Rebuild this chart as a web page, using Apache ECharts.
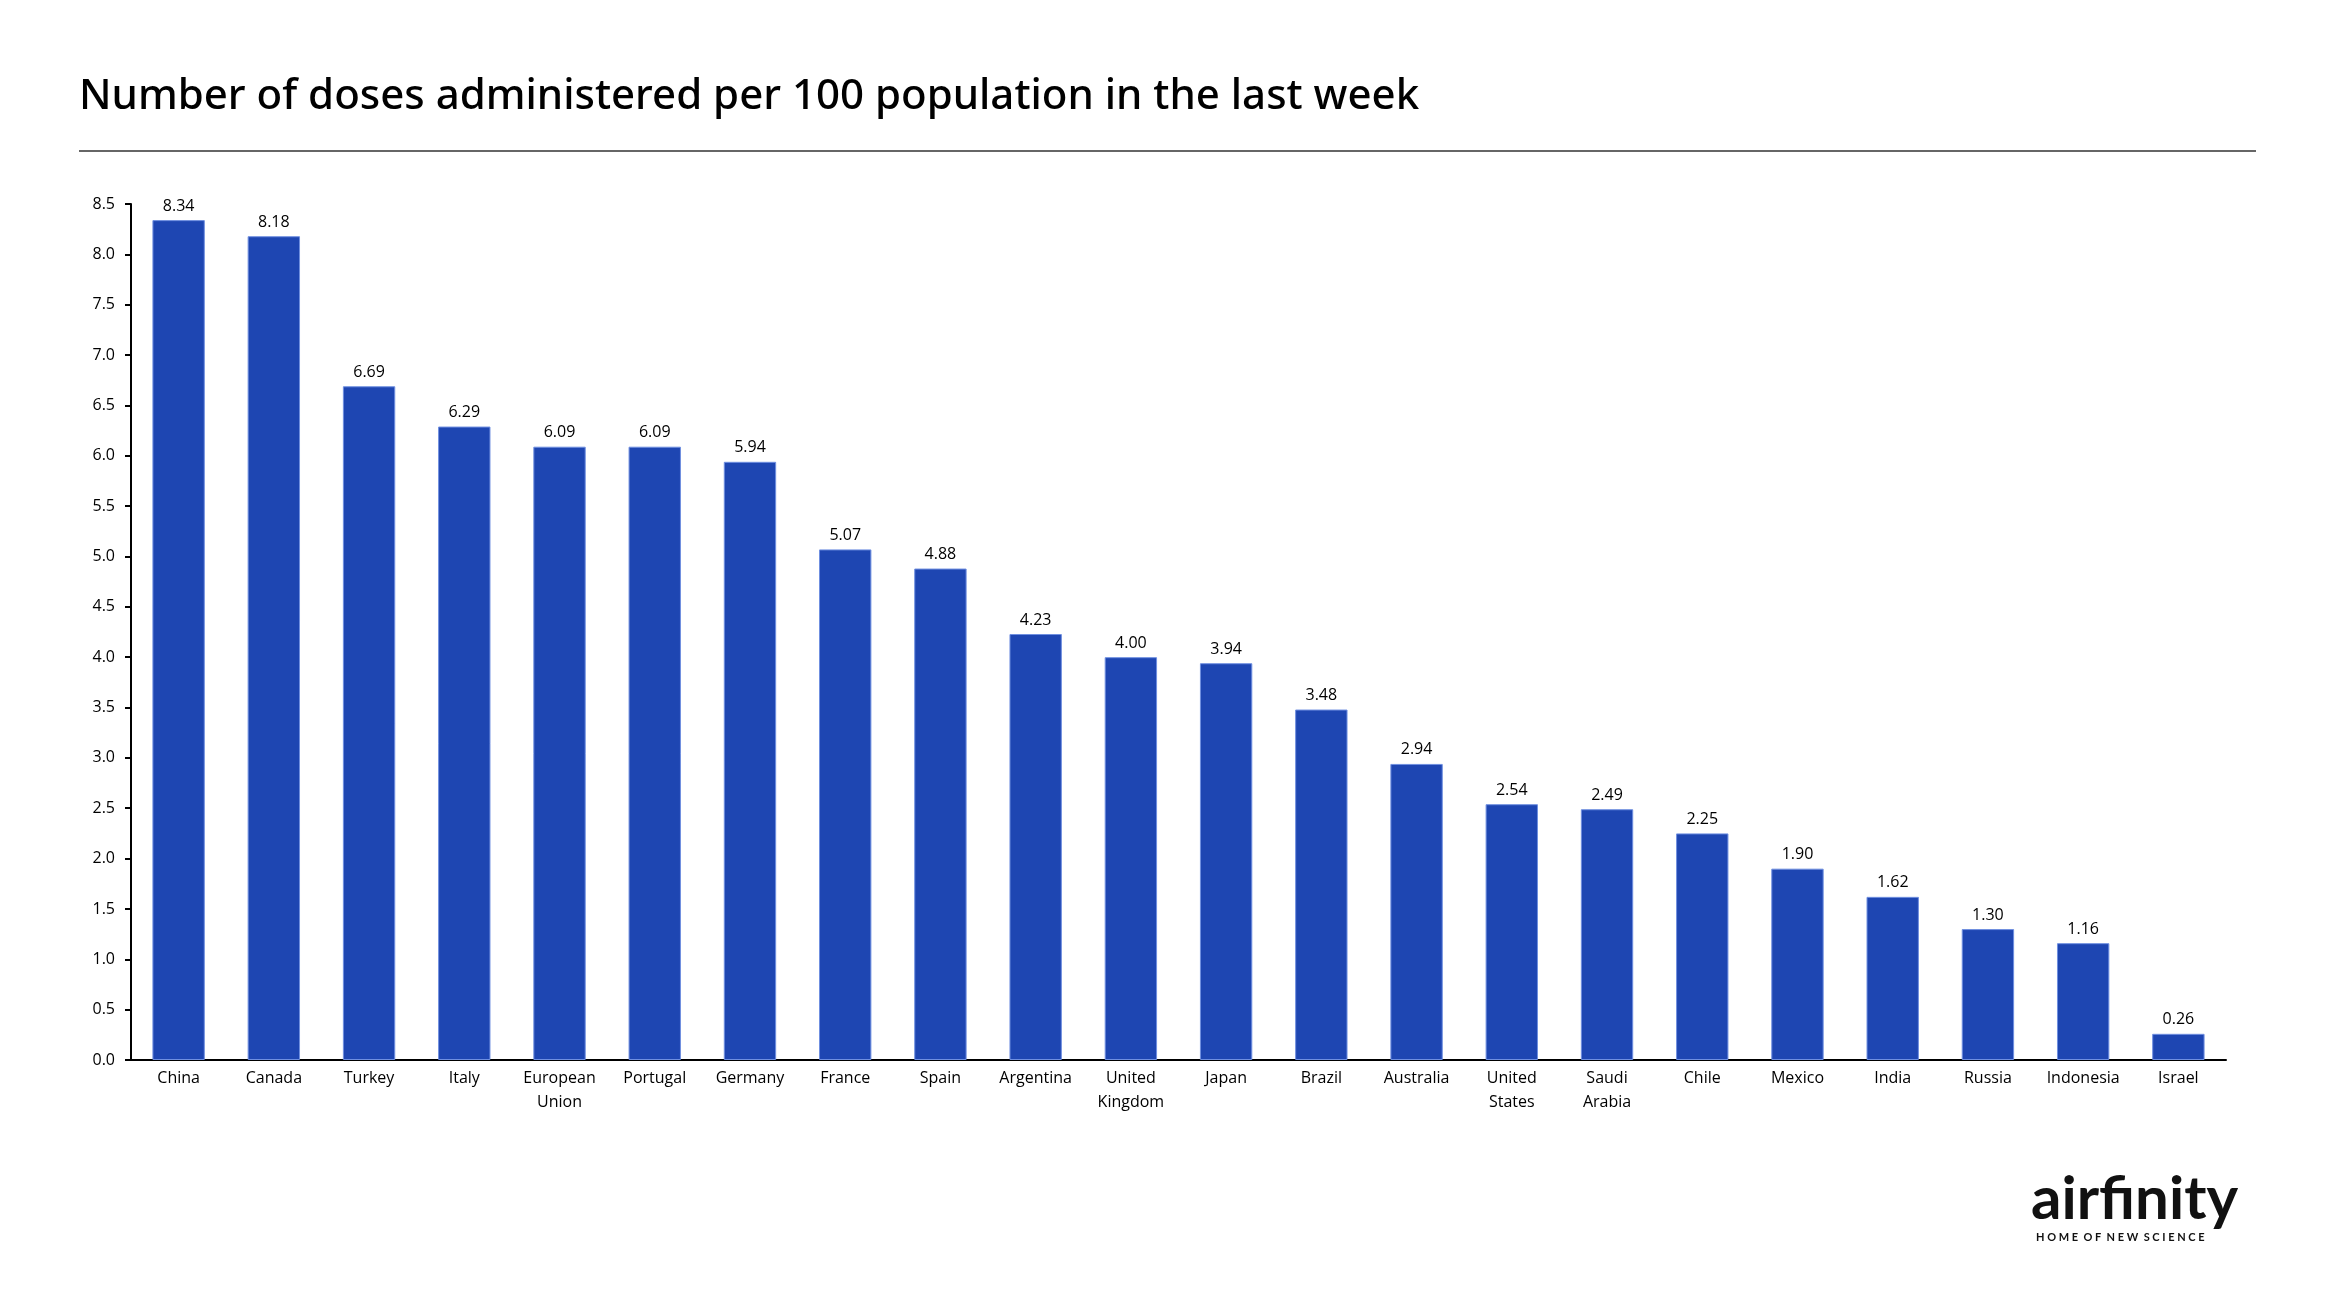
<!DOCTYPE html>
<html>
<head>
<meta charset="utf-8">
<script src="https://cdn.jsdelivr.net/npm/echarts@6/dist/echarts.min.js"></script>
<style>
html,body{margin:0;padding:0;background:#fff;}
#chart{width:2341px;height:1306px;}
</style>
</head>
<body>
<div id="chart"></div>
<script>
const categories = ["China","Canada","Turkey","Italy","European\nUnion","Portugal","Germany","France","Spain","Argentina","United\nKingdom","Japan","Brazil","Australia","United\nStates","Saudi\nArabia","Chile","Mexico","India","Russia","Indonesia","Israel"];
const doses = [8.34,8.18,6.69,6.29,6.09,6.09,5.94,5.07,4.88,4.23,4.00,3.94,3.48,2.94,2.54,2.49,2.25,1.90,1.62,1.30,1.16,0.26];
const yTicks = {min:0, max:8.5, interval:0.5};
const titleText = "Number of doses administered per 100 population in the last week";

const chart = echarts.init(document.getElementById('chart'), null, {renderer:'canvas'});
const FONT = "'Open Sans', 'Noto Sans', sans-serif";
chart.setOption({
  backgroundColor:'#ffffff',
  animation:false,
  title:{
    text:titleText,
    left:74, top:71,
    textStyle:{fontFamily:"'Noto Sans', sans-serif", fontWeight:500, fontSize:42, color:'#000'}
  },
  grid:{left:131, right:115, top:204, bottom:246, containLabel:false},
  xAxis:{
    type:'category',
    data:categories,
    axisLine:{lineStyle:{color:'#000', width:2}},
    axisTick:{show:false},
    axisLabel:{fontFamily:FONT, fontSize:16, color:'#000', margin:6, lineHeight:24, interval:0}
  },
  yAxis:{
    type:'value',
    min:yTicks.min, max:yTicks.max, interval:yTicks.interval,
    axisLine:{show:true, lineStyle:{color:'#000', width:2}},
    axisTick:{show:true, length:6, lineStyle:{color:'#000', width:2}},
    splitLine:{show:false},
    axisLabel:{fontFamily:FONT, fontSize:16, color:'#000', margin:16, formatter:v=>v.toFixed(1)}
  },
  series:[{
    type:'bar',
    data:doses,
    barWidth:'55%',
    itemStyle:{color:'#1E46B2', borderColor:'#6F8FE0', borderWidth:1},
    label:{show:true, position:'top', distance:6, fontFamily:FONT, fontSize:16, color:'#000', formatter:p=>p.value.toFixed(2)}
  }],
  graphic:[
    {type:'line', shape:{x1:79, y1:151, x2:2256, y2:151}, style:{stroke:'#333', lineWidth:1.5}},
    {type:'text', left:2031, top:1170, style:{text:'airfinity', font:"bold 60px 'Lato', 'Noto Sans', sans-serif", fill:'#111'}},
    {type:'text', left:2036, top:1232, style:{text:'H O M E  O F  N E W  S C I E N C E', font:"bold 11px 'Lato', 'Noto Sans', sans-serif", fill:'#111'}}
  ]
});
</script>
</body>
</html>
